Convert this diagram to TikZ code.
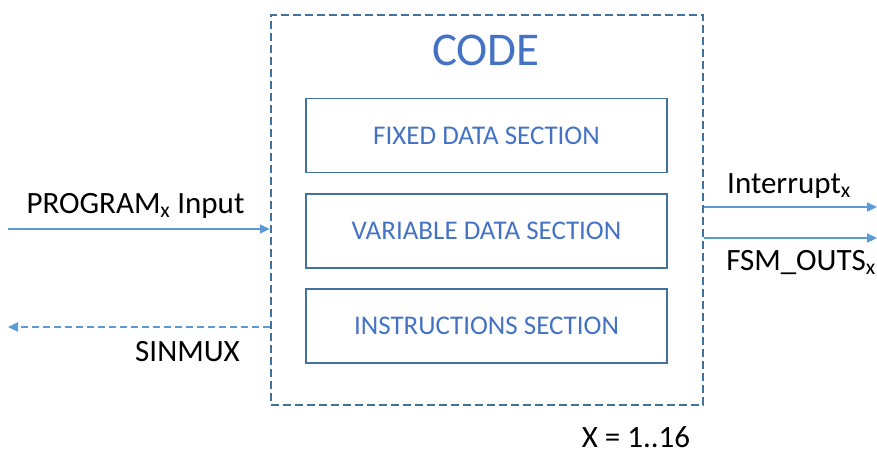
\documentclass[tikz,border=0pt]{standalone}
\usepackage{fontspec}
\setmainfont{Carlito}
\usetikzlibrary{arrows.meta}
\definecolor{boxc}{HTML}{41719C}
\definecolor{txtc}{HTML}{4472C4}
\definecolor{arrc}{HTML}{5B9BD5}
\begin{document}
\begin{tikzpicture}[x=1pt,y=-1pt,
  secbox/.style={draw=boxc,line width=1.5pt,minimum width=361pt,minimum height=74pt,inner sep=0pt,text=txtc,font=\fontsize{27}{30}\selectfont},
  lbl/.style={font=\fontsize{31}{34}\selectfont,text=black,inner sep=0pt},
  arr/.style={draw=arrc,line width=2.2pt,-{Triangle[length=10pt,width=9pt]}}]
\useasboundingbox (0,0) rectangle (877,455);
\node[draw=boxc,dashed,dash pattern=on 8pt off 4pt,line width=2.5pt,minimum width=432pt,minimum height=390pt,inner sep=0pt] (code) at (487,210) {};
\node[text=txtc,font=\fontsize{47}{50}\selectfont,inner sep=0pt] (title) at (486,50) {CODE};
\node[secbox] (fixed) at (486.5,135.5) {FIXED DATA SECTION};
\node[secbox] (var) at (486.5,231) {VARIABLE DATA SECTION};
\node[secbox] (ins) at (486.5,326) {INSTRUCTIONS SECTION};
\coordinate (pin) at (8,229);
\coordinate (sout) at (8,327);
\coordinate (iout) at (877,207);
\coordinate (fout) at (877,238);
\draw[arr] (pin) -- (pin -| code.west);
\draw[arr,dashed,dash pattern=on 7pt off 4pt] (sout -| code.west) -- (sout);
\draw[arr] (iout -| code.east) -- (iout);
\draw[arr] (fout -| code.east) -- (fout);
\node[lbl] (plbl) at (135.5,206) {PROGRAM\textsubscript{x} Input};
\node[lbl] (slbl) at (187.5,352) {SINMUX};
\node[lbl] (ilbl) at (789,186) {Interrupt\textsubscript{x}};
\node[lbl] (flbl) at (801,263) {FSM\_OUTS\textsubscript{x}};
\node[lbl] (xlbl) at (636,437) {X = 1..16};
\end{tikzpicture}
\end{document}
